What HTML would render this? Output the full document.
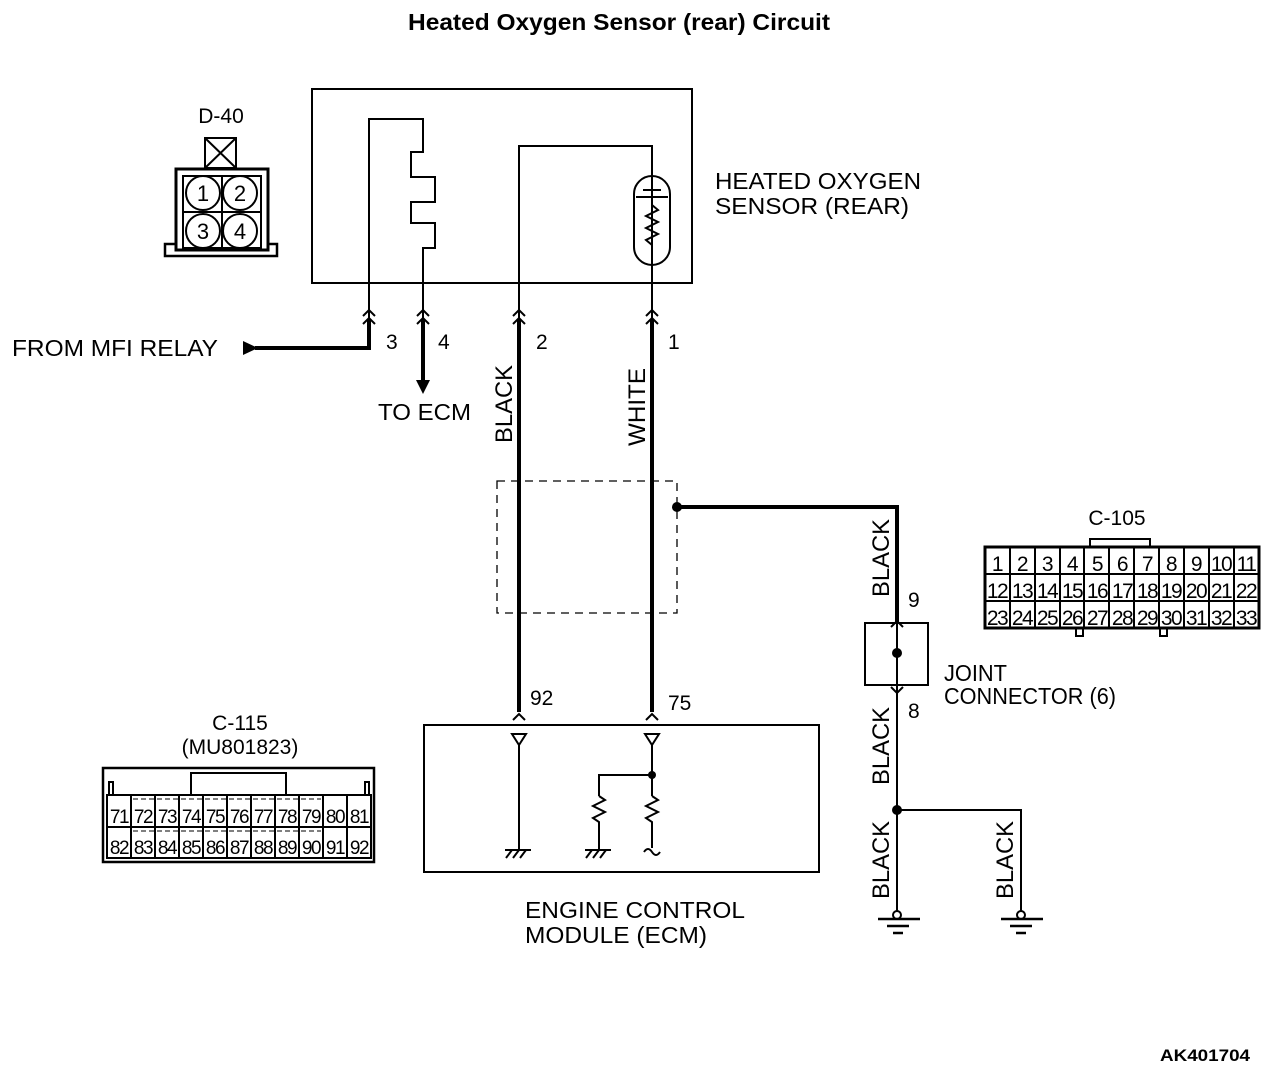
<!DOCTYPE html>
<html><head><meta charset="utf-8"><style>
html,body{margin:0;padding:0;background:#fff;}
svg{display:block;font-family:"Liberation Sans",Arial,sans-serif;}
</style></head><body>
<svg width="1280" height="1080" viewBox="0 0 1280 1080" xmlns="http://www.w3.org/2000/svg">
<g fill="#000" font-size="23">
<text x="408" y="30" font-weight="bold" font-size="23" textLength="422" lengthAdjust="spacingAndGlyphs">Heated Oxygen Sensor (rear) Circuit</text>
<text x="221" y="123" text-anchor="middle" font-size="21">D-40</text>
<text x="715" y="189" textLength="206" lengthAdjust="spacingAndGlyphs">HEATED OXYGEN</text>
<text x="715" y="214" textLength="194" lengthAdjust="spacingAndGlyphs">SENSOR (REAR)</text>
<text x="12" y="356" textLength="206" lengthAdjust="spacingAndGlyphs">FROM MFI RELAY</text>
<text x="386" y="349" font-size="21">3</text>
<text x="438" y="349" font-size="21">4</text>
<text x="536" y="349" font-size="21">2</text>
<text x="668" y="349" font-size="21">1</text>
<text x="378" y="420" textLength="93" lengthAdjust="spacingAndGlyphs">TO ECM</text>
<text x="530" y="705" font-size="21">92</text>
<text x="668" y="710" font-size="21">75</text>
<text x="908" y="607" font-size="21">9</text>
<text x="908" y="718" font-size="21">8</text>
<text x="944" y="681" textLength="63" lengthAdjust="spacingAndGlyphs">JOINT</text>
<text x="944" y="704" textLength="172" lengthAdjust="spacingAndGlyphs">CONNECTOR (6)</text>
<text x="525" y="918" textLength="220" lengthAdjust="spacingAndGlyphs">ENGINE CONTROL</text>
<text x="525" y="943" textLength="182" lengthAdjust="spacingAndGlyphs">MODULE (ECM)</text>
<text x="1117" y="525" text-anchor="middle" font-size="21">C-105</text>
<text x="240" y="730" text-anchor="middle" font-size="21">C-115</text>
<text x="240" y="754" text-anchor="middle" font-size="21">(MU801823)</text>
<text x="1160" y="1061" font-weight="bold" font-size="17" textLength="90" lengthAdjust="spacingAndGlyphs">AK401704</text>
<g font-size="24">
<text transform="translate(512,443) rotate(-90)" textLength="78" lengthAdjust="spacingAndGlyphs">BLACK</text>
<text transform="translate(645,446) rotate(-90)" textLength="78" lengthAdjust="spacingAndGlyphs">WHITE</text>
<text transform="translate(889,597) rotate(-90)" textLength="78" lengthAdjust="spacingAndGlyphs">BLACK</text>
<text transform="translate(889,785) rotate(-90)" textLength="78" lengthAdjust="spacingAndGlyphs">BLACK</text>
<text transform="translate(889,899) rotate(-90)" textLength="78" lengthAdjust="spacingAndGlyphs">BLACK</text>
<text transform="translate(1013,899) rotate(-90)" textLength="78" lengthAdjust="spacingAndGlyphs">BLACK</text>
</g>
</g>
<g fill="none" stroke="#000" stroke-width="2">
<rect x="312" y="89" width="380" height="194"/>
<path d="M369,320 V119 H423 V152 H411 V177 H435 V202 H411 V223 H435 V248 H423 V320"/>
<path d="M519,320 V146 H652 V320"/>
<rect x="634" y="176" width="36" height="89" rx="18"/>
<line x1="643" y1="190" x2="661" y2="190"/>
<line x1="636" y1="197" x2="668" y2="197"/>
<path d="M652,205 L658,210 L646,216 L658,222 L646,228 L658,234 L646,240 L652,245"/>
<path d="M363,316 l6,-6 l6,6 M363,324 l6,-6 l6,6"/>
<path d="M417,316 l6,-6 l6,6 M417,324 l6,-6 l6,6"/>
<path d="M513,316 l6,-6 l6,6 M513,324 l6,-6 l6,6"/>
<path d="M646,316 l6,-6 l6,6 M646,324 l6,-6 l6,6"/>
<path d="M513,720 l6,-6 l6,6 M646,720 l6,-6 l6,6"/>
<rect x="497" y="481" width="180" height="132" stroke-width="1.3" stroke-dasharray="8,6"/>
<rect x="424" y="725" width="395" height="147"/>
<path d="M512,734 h14 l-7,11 z M645,734 h14 l-7,11 z"/>
<path d="M519,745 V850 M652,745 V796 M652,775 H599 V796"/>
<path d="M599,796 l6,4 l-12,6 l12,6 l-12,6 l6,4 V850 M652,796 l6,4 l-12,6 l12,6 l-12,6 l6,4 V848"/>
<path d="M505,850 h26 M506,858 l6,-8 M513,858 l6,-8 M520,858 l6,-8 M585,850 h26 M586,858 l6,-8 M593,858 l6,-8 M600,858 l6,-8"/>
<path d="M644,852 q4,-6 8,0 q4,6 8,0"/>
<rect x="865" y="623" width="63" height="62"/>
<path d="M897,620 V912 M897,810 H1021 V912"/>
<path d="M891,627 l6,-6 l6,6 M891,687 l6,6 l6,-6"/>
<circle cx="897" cy="915" r="4" fill="#fff"/>
<circle cx="1021" cy="915" r="4" fill="#fff"/>
<path d="M878,919 h42 M887,926 h22 M893,933 h10 M1001,919 h42 M1010,926 h22 M1016,933 h10" stroke-width="2.5"/>
<rect x="205" y="138" width="31" height="30"/>
<path d="M205,138 L236,168 M236,138 L205,168"/>
<rect x="176" y="169" width="92" height="81" stroke-width="3"/>
<rect x="183" y="176" width="78" height="72"/>
<path d="M222,176 V248 M183,212 H261"/>
<circle cx="203" cy="193" r="17" fill="#fff"/><circle cx="240" cy="193" r="17" fill="#fff"/>
<circle cx="203" cy="231" r="17" fill="#fff"/><circle cx="240" cy="231" r="17" fill="#fff"/>
<path d="M176,244 H165 V256 H277 V244 H268" stroke-width="2.5"/>
<path d="M1090,547 V539 H1150 V547 M1076,628 V636 H1083 V628 M1160,628 V636 H1167 V628"/>
<rect x="985" y="547" width="274" height="81" stroke-width="3"/>
<path d="M985,574 H1259 M985,601 H1259 M1010,547 V628 M1035,547 V628 M1060,547 V628 M1084,547 V628 M1109,547 V628 M1134,547 V628 M1159,547 V628 M1184,547 V628 M1209,547 V628 M1234,547 V628"/>
<rect x="103" y="768" width="271" height="94" stroke-width="2.5"/>
<path d="M191,795 V773 H286 V795 M109,795 V782 H113 V795 M365,795 V782 H369 V795"/>
<rect x="107" y="795" width="264" height="63"/>
<path d="M107,827 H371 M131,795 V858 M155,795 V858 M179,795 V858 M203,795 V858 M227,795 V858 M251,795 V858 M275,795 V858 M299,795 V858 M323,795 V858 M347,795 V858"/>
<path d="M133,799 H321 M133,831 H321" stroke-width="1" stroke-dasharray="5,3"/>
</g>
<g fill="none" stroke="#000" stroke-width="4">
<path d="M369,320 V348 H255"/>
<path d="M423,320 V385"/>
<path d="M519,320 V712"/>
<path d="M652,320 V712"/>
<path d="M677,507 H897 V622"/>
</g>
<g fill="#000">
<path d="M243,341 L258,348 L243,355 Z"/>
<path d="M416,380 L430,380 L423,394 Z"/>
<circle cx="677" cy="507" r="5"/>
<circle cx="897" cy="653" r="5"/>
<circle cx="897" cy="810" r="5"/>
<circle cx="652" cy="775" r="4"/>
</g>
<g font-size="22" text-anchor="middle" fill="#000">
<text x="203" y="201">1</text><text x="240" y="201">2</text><text x="203" y="239">3</text><text x="240" y="239">4</text>
</g>
<g font-size="21" text-anchor="middle" fill="#000" letter-spacing="-1.5">
<text x="997" y="571">1</text><text x="1022" y="571">2</text><text x="1047" y="571">3</text><text x="1072" y="571">4</text><text x="1097" y="571">5</text><text x="1122" y="571">6</text><text x="1147" y="571">7</text><text x="1171" y="571">8</text><text x="1196" y="571">9</text><text x="1221" y="571">10</text><text x="1246" y="571">11</text>
<text x="997" y="598">12</text><text x="1022" y="598">13</text><text x="1047" y="598">14</text><text x="1072" y="598">15</text><text x="1097" y="598">16</text><text x="1122" y="598">17</text><text x="1147" y="598">18</text><text x="1171" y="598">19</text><text x="1196" y="598">20</text><text x="1221" y="598">21</text><text x="1246" y="598">22</text>
<text x="997" y="625">23</text><text x="1022" y="625">24</text><text x="1047" y="625">25</text><text x="1072" y="625">26</text><text x="1097" y="625">27</text><text x="1122" y="625">28</text><text x="1147" y="625">29</text><text x="1171" y="625">30</text><text x="1196" y="625">31</text><text x="1221" y="625">32</text><text x="1246" y="625">33</text>
</g>
<g font-size="19" text-anchor="middle" fill="#000" letter-spacing="-1.5">
<text x="119" y="823">71</text><text x="143" y="823">72</text><text x="167" y="823">73</text><text x="191" y="823">74</text><text x="215" y="823">75</text><text x="239" y="823">76</text><text x="263" y="823">77</text><text x="287" y="823">78</text><text x="311" y="823">79</text><text x="335" y="823">80</text><text x="359" y="823">81</text>
<text x="119" y="854">82</text><text x="143" y="854">83</text><text x="167" y="854">84</text><text x="191" y="854">85</text><text x="215" y="854">86</text><text x="239" y="854">87</text><text x="263" y="854">88</text><text x="287" y="854">89</text><text x="311" y="854">90</text><text x="335" y="854">91</text><text x="359" y="854">92</text>
</g>
</svg>
</body></html>
